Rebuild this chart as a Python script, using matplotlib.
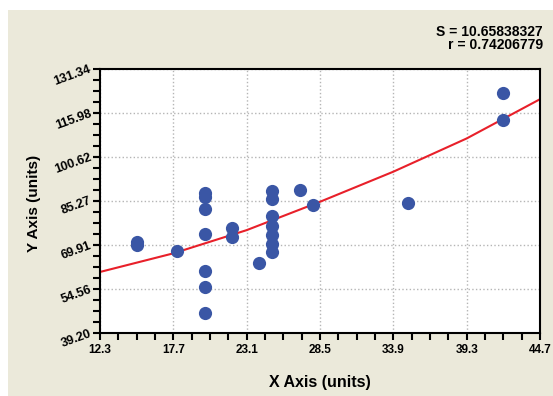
import matplotlib
matplotlib.use("Agg")
from matplotlib import pyplot as plt
from matplotlib.patches import Rectangle
from matplotlib.ticker import FixedLocator, AutoMinorLocator

# Scatter data
x_data = [15, 15, 18,
          20, 20, 20, 20, 20, 20, 20,
          22, 22, 24,
          25, 25, 25, 25, 25, 25, 25,
          27, 28, 35, 42, 42]
y_data = [71.0, 70.0, 67.8,
          88.2, 86.7, 82.4, 73.8, 60.7, 55.3, 46.1,
          75.8, 72.7, 63.6,
          88.9, 86.0, 79.9, 76.5, 73.4, 70.3, 67.5,
          89.1, 83.8, 84.7, 123.1, 113.5]

# Fitted curve, read at the grid positions
fit_x = [12.3, 17.7, 23.1, 28.5, 33.9, 39.3, 44.7]
fit_y = [60.5, 67.0, 75.1, 85.0, 95.5, 107.1, 120.8]

x_ticks = [12.3, 17.7, 23.1, 28.5, 33.9, 39.3, 44.7]
y_ticks = [39.20, 54.56, 69.91, 85.27, 100.62, 115.98, 131.34]

bg = '#EBE9DA'
plt.rcParams['font.family'] = ['Liberation Sans', 'DejaVu Sans']

fig = plt.figure(figsize=(5.53, 3.96), dpi=100)
fig.patch.set_facecolor('white')
fig.patches.append(Rectangle((8 / 553, 0), 1, 1 - 10 / 396, transform=fig.transFigure,
                             facecolor=bg, edgecolor='none', zorder=-10))

ax = fig.add_axes([100 / 553, 63 / 396, 440 / 553, 264 / 396])
ax.set_facecolor('white')

ax.plot(fit_x, fit_y, color='#E8202A', linewidth=1.5, zorder=2)
ax.plot(x_data, y_data, 'o', color='#3A56A5', markersize=9.5, markeredgewidth=0, zorder=3)

ax.set_xlim(x_ticks[0], x_ticks[-1])
ax.set_ylim(y_ticks[0], y_ticks[-1])
ax.xaxis.set_major_locator(FixedLocator(x_ticks))
ax.yaxis.set_major_locator(FixedLocator(y_ticks))
ax.xaxis.set_minor_locator(AutoMinorLocator(4))
ax.yaxis.set_minor_locator(AutoMinorLocator(4))
ax.set_xticklabels(['%.1f' % v for v in x_ticks], fontweight='bold', fontsize=8.5)
ax.set_yticklabels(['%.2f' % v for v in y_ticks], fontweight='bold', fontsize=9,
                   rotation=20, ha='right', va='center', rotation_mode='anchor')

ax.tick_params(which='both', direction='out', length=5, width=1.5, color='black')
ax.tick_params(axis='x', pad=3)
ax.tick_params(axis='y', pad=1.5)
ax.grid(True, which='major', color='#b5b5b5', linestyle=':', linewidth=1)

for s in ax.spines.values():
    s.set_linewidth(1.5)
    s.set_color('black')

ax.set_xlabel('X Axis (units)', fontweight='bold', fontsize=11.5)
ax.xaxis.set_label_coords(0.5, -0.16)
ax.set_ylabel('Y Axis (units)', fontweight='bold', fontsize=11)
ax.yaxis.set_label_coords(-0.135, 0.49)

fig.text(543 / 553, 1 - 32 / 396, 'S = 10.65838327', ha='right', va='center',
         fontweight='bold', fontsize=10)
fig.text(543 / 553, 1 - 45 / 396, 'r = 0.74206779', ha='right', va='center',
         fontweight='bold', fontsize=10)

fig.savefig('out.png', dpi=100, facecolor=fig.get_facecolor())
